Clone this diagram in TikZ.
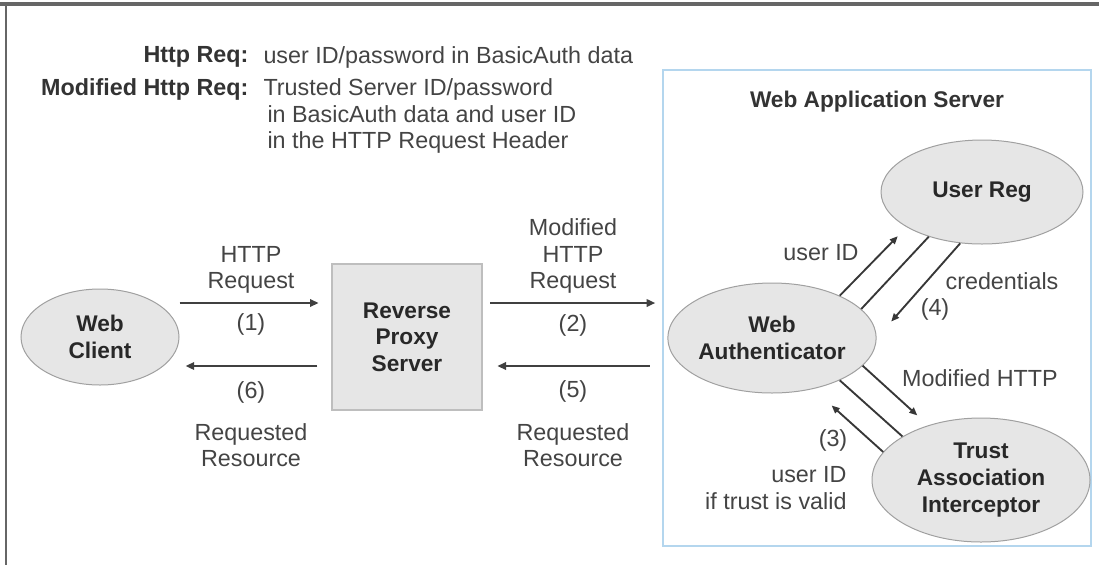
\documentclass[tikz,border=0pt]{standalone}
\usepackage{fontspec}
\setmainfont{Liberation Sans}
\usetikzlibrary{arrows.meta,shapes.geometric}

\tikzset{every picture/.style={line width=0.75pt}}

\begin{document}
\begin{tikzpicture}[x=0.75pt,y=0.75pt,yscale=-1,xscale=1,
  lbl/.style={inner sep=0.75pt, align=center, text={rgb, 255:red, 68; green, 68; blue, 68}, font=\fontsize{17.5}{20}\selectfont},
  hd/.style={inner sep=0.75pt, text={rgb, 255:red, 51; green, 51; blue, 51}, font=\fontsize{17.5}{20}\selectfont\bfseries},
  blob/.style={ellipse, draw={rgb, 255:red, 160; green, 160; blue, 160}, fill={rgb, 255:red, 230; green, 230; blue, 230}, inner sep=0pt, align=center, text={rgb, 255:red, 40; green, 40; blue, 40}, font=\fontsize{17}{20}\selectfont\bfseries},
  flow/.style={draw={rgb, 255:red, 64; green, 64; blue, 64}, line width=2.2pt, -{Triangle[length=6.5pt,width=5.5pt]}},
  thinflow/.style={draw={rgb, 255:red, 55; green, 55; blue, 55}, line width=1.4pt, -{Triangle[length=6pt,width=5pt]}},
  thinlink/.style={draw={rgb, 255:red, 55; green, 55; blue, 55}, line width=1.4pt}]
\useasboundingbox (0,0) rectangle (1099,565);

%Straight Lines [id:frame]
\draw [draw={rgb, 255:red, 102; green, 102; blue, 102}, line width=3pt] (0,4) -- (1099,4) ;
\draw [draw={rgb, 255:red, 102; green, 102; blue, 102}, line width=2pt] (6,4) -- (6,565) ;

%Shape: Rectangle [id:was]
\draw [draw={rgb, 255:red, 180; green, 214; blue, 238}, line width=1.5pt] (663,70) rectangle (1091,546) ;

%Shape: Ellipse [id:client]
\node (client) [blob, minimum width=118.5pt, minimum height=72pt] at (100,337) {Web\\Client};
%Shape: Rectangle [id:proxy]
\node (proxy) [draw={rgb, 255:red, 190; green, 190; blue, 190}, fill={rgb, 255:red, 230; green, 230; blue, 230}, line width=1.5pt, minimum width=113pt, minimum height=110pt, inner sep=0pt, align=center, text={rgb, 255:red, 40; green, 40; blue, 40}, font=\fontsize{17}{20}\selectfont\bfseries] at (407,337) {Reverse\\Proxy\\Server};
%Shape: Ellipse [id:auth]
\node (auth) [blob, minimum width=150pt, minimum height=82.5pt] at (772,338) {Web\\Authenticator};
%Shape: Ellipse [id:userreg]
\node (userreg) [blob, minimum width=151.5pt, minimum height=78pt] at (982,192) {User Reg};
%Shape: Ellipse [id:trust]
\node (trust) [blob, minimum width=163.5pt, minimum height=93pt] at (981,480) {Trust\\Association\\Interceptor};

\coordinate (reqrow) at (0,303) ;
\coordinate (resrow) at (0,366) ;

%Straight Lines [id:req1]
\draw [flow, shorten >=9pt] (client.east |- reqrow) -- (proxy.west |- reqrow) ;
%Straight Lines [id:res6]
\draw [flow, shorten <=10pt, shorten >=4.5pt] (proxy.west |- resrow) -- (client.east |- resrow) ;
%Straight Lines [id:req2]
\draw [flow, shorten <=5pt, shorten >=9pt] (proxy.east |- reqrow) -- (auth.west |- reqrow) ;
%Straight Lines [id:res5]
\draw [flow, shorten <=13pt, shorten >=10.5pt] (auth.west |- resrow) -- (proxy.east |- resrow) ;

%Straight Lines [id:userid]
\draw [thinflow, shorten >=9.5pt] (auth.32) -- (userreg.205) ;
\draw [thinlink] (auth.18) -- (userreg.220) ;
%Straight Lines [id:creds]
\draw [thinflow, shorten >=16.5pt] (userreg.247) -- (auth.east) ;
%Straight Lines [id:modhttp]
\draw [thinflow, shorten >=11pt] (auth.-17) -- (trust.134) ;
\draw [thinlink] (auth.-32) -- (trust.151) ;
%Straight Lines [id:trustback]
\draw [thinflow, shorten >=18.5pt] (trust.164) -- (auth.-51) ;

% Text Node
\node (httpkey) [hd, anchor=east] at (250,57) {Http Req:};
% Text Node
\node (httpval) [lbl, anchor=west] at (262,57) {user ID/password in BasicAuth data};
% Text Node
\node (modkey) [hd, anchor=east] at (250,89) {Modified Http Req:};
% Text Node
\node (modval) [lbl, anchor=west, align=left] at (262,116) {Trusted Server ID/password\\\hspace*{3pt}in BasicAuth data and user ID\\\hspace*{3pt}in the HTTP Request Header};
% Text Node
\node (wastitle) [hd, font=\fontsize{17}{20}\selectfont\bfseries] at (877,102) {Web Application Server};
% Text Node
\node (lbl1top) [lbl] at (251,270) {HTTP\\Request};
% Text Node
\node (lbl1) [lbl] at (251,324) {(1)};
% Text Node
\node (lbl6) [lbl] at (251,392) {(6)};
% Text Node
\node (lbl6bot) [lbl] at (251,445) {Requested\\Resource};
% Text Node
\node (lbl2top) [lbl] at (573,256) {Modified\\HTTP\\Request};
% Text Node
\node (lbl2) [lbl] at (573,325) {(2)};
% Text Node
\node (lbl5) [lbl] at (573,391) {(5)};
% Text Node
\node (lbl5bot) [lbl] at (573,445) {Requested\\Resource};
% Text Node
\node (lbluid) [lbl] at (821,253) {user ID};
% Text Node
\node (lblcred) [lbl] at (1002,281) {credentials};
% Text Node
\node (lbl4) [lbl] at (935,309) {(4)};
% Text Node
\node (lblmod) [lbl] at (980,378) {Modified HTTP};
% Text Node
\node (lbl3) [lbl] at (833,440) {(3)};
% Text Node
\node (lbltrust) [lbl, anchor=east, align=right] at (848,488) {user ID\\if trust is valid};

\end{tikzpicture}
\end{document}
